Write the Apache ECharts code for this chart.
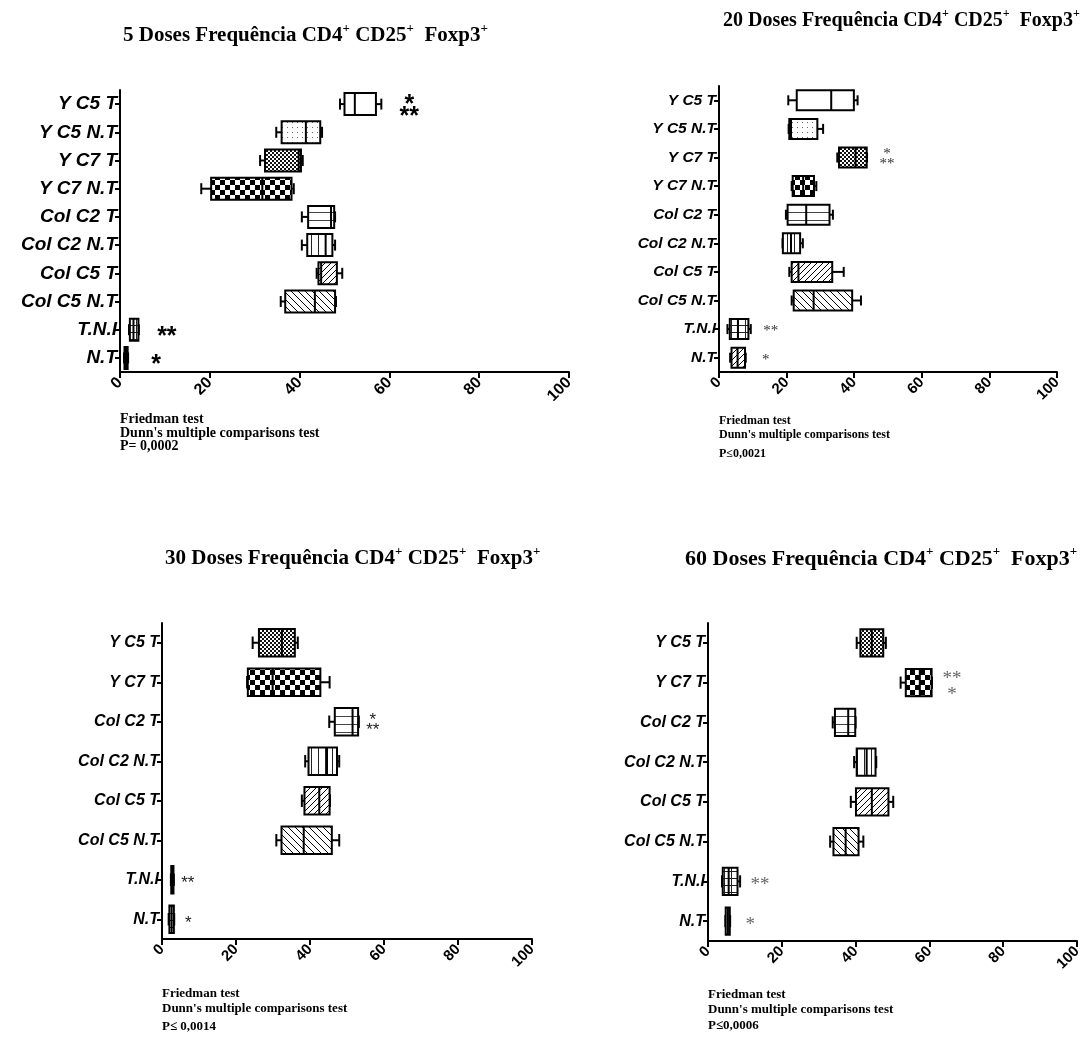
<!DOCTYPE html>
<html><head><meta charset="utf-8">
<script src="https://cdn.jsdelivr.net/npm/echarts@6/dist/echarts.min.js"></script>
<style>html,body{margin:0;padding:0;background:#fff}#c{width:1085px;height:1038px}</style>
</head><body><div id="c"></div><script>
// ---------------- DATA ----------------
const xTicks = [0, 20, 40, 60, 80, 100];
const titleDoses = ['5 Doses', '20 Doses', '30 Doses', '60 Doses'];

const cats5 = ['Y C5 T','Y C5 N.T','Y C7 T','Y C7 N.T','Col C2 T','Col C2 N.T','Col C5 T','Col C5 N.T','T.N.I','N.T'];
// [min, q1, median, q3, max]
const box5 = [
  [49.0, 50.0, 52.3, 57.0, 58.2],
  [34.8, 36.0, 41.4, 44.6, 45.0],
  [31.2, 32.3, 39.8, 40.3, 40.7],
  [18.1, 20.3, 31.7, 38.2, 38.7],
  [40.5, 41.9, 47.0, 47.7, 47.9],
  [40.5, 41.7, 45.8, 47.3, 47.9],
  [43.8, 44.2, 44.8, 48.3, 49.5],
  [35.8, 36.8, 43.4, 47.9, 48.1],
  [2.0, 2.2, 3.0, 4.1, 4.2],
  [0.9, 1.0, 1.4, 1.7, 1.8]
];
const stars5 = ['*\n**','','','','','','','','**','*'];
const notes5 = ['Friedman test', "Dunn's multiple comparisons test", 'P= 0,0002'];

const cats20 = ['Y C5 T','Y C5 N.T','Y C7 T','Y C7 N.T','Col C2 T','Col C2 N.T','Col C5 T','Col C5 N.T','T.N.I','N.T'];
const box20 = [
  [20.5, 23.0, 33.2, 39.9, 41.0],
  [20.6, 20.8, 21.3, 29.1, 30.8],
  [35.0, 35.5, 40.4, 43.7, 43.8],
  [21.5, 21.8, 24.9, 28.1, 28.8],
  [19.8, 20.3, 25.8, 32.7, 33.7],
  [18.8, 18.9, 21.3, 24.0, 24.8],
  [20.8, 21.5, 23.5, 33.5, 36.9],
  [21.5, 22.1, 28.0, 39.4, 42.0],
  [2.5, 3.2, 5.6, 8.7, 9.4],
  [3.3, 3.7, 5.5, 7.7, 7.9]
];
const stars20 = ['','','*\n**','','','','','','**','*'];
const notes20 = ['Friedman test', "Dunn's multiple comparisons test", 'P≤0,0021'];

const cats30 = ['Y C5 T','Y C7 T','Col C2 T','Col C2 N.T','Col C5 T','Col C5 N.T','T.N.I','N.T'];
const box30 = [
  [24.5, 26.2, 32.4, 35.9, 36.7],
  [23.0, 23.2, 29.9, 42.8, 45.3],
  [45.2, 46.7, 51.5, 53.0, 53.2],
  [38.7, 39.6, 44.6, 47.3, 47.9],
  [37.8, 38.5, 42.5, 45.3, 45.4],
  [30.9, 32.3, 38.3, 45.9, 47.9],
  [2.4, 2.5, 2.8, 3.1, 3.2],
  [1.8, 2.0, 2.6, 3.2, 3.3]
];
const stars30 = ['','','*\n**','','','','**','*'];
const notes30 = ['Friedman test', "Dunn's multiple comparisons test", 'P≤ 0,0014'];

const cats60 = ['Y C5 T','Y C7 T','Col C2 T','Col C2 N.T','Col C5 T','Col C5 N.T','T.N.I','N.T'];
const box60 = [
  [40.3, 41.3, 44.4, 47.5, 48.2],
  [52.2, 53.6, 57.4, 60.6, 60.7],
  [33.8, 34.4, 38.0, 39.9, 40.0],
  [39.6, 40.3, 43.0, 45.4, 45.6],
  [38.7, 40.1, 44.4, 48.9, 50.2],
  [33.1, 34.0, 37.3, 40.8, 42.1],
  [3.8, 4.0, 5.6, 8.0, 8.7],
  [4.7, 4.8, 5.4, 5.9, 6.0]
];
const stars60 = ['','**\n*','','','','','**','*'];
const notes60 = ['Friedman test', "Dunn's multiple comparisons test", 'P≤0,0006'];

// ---------------- STYLE ----------------
function pattern(kind) {
  const sizes = {blank:4, dots:5, fine:4, coarse:10, hl:8, vl:7, df:6, db:7, grid:7, solid:4};
  const s = sizes[kind] || 6;
  const c = document.createElement('canvas');
  c.width = s; c.height = s;
  const g = c.getContext('2d');
  g.fillStyle = '#fff'; g.fillRect(0, 0, s, s);
  g.fillStyle = '#000'; g.strokeStyle = '#000'; g.lineWidth = 1;
  if (kind === 'dots') { g.fillStyle = '#666'; g.fillRect(2, 2, 1, 1); }
  else if (kind === 'fine') { g.fillStyle = '#111'; g.fillRect(0, 0, 2, 2); g.fillRect(2, 2, 2, 2); }
  else if (kind === 'coarse') { g.fillRect(0, 0, s / 2, s / 2); g.fillRect(s / 2, s / 2, s / 2, s / 2); }
  else if (kind === 'hl') { g.fillStyle = '#444'; g.fillRect(0, 4, s, 1); }
  else if (kind === 'vl') { g.fillStyle = '#222'; g.fillRect(3, 0, 1, s); }
  else if (kind === 'df') {
    g.beginPath(); g.moveTo(0, s); g.lineTo(s, 0); g.moveTo(-1, 1); g.lineTo(1, -1);
    g.moveTo(s - 1, s + 1); g.lineTo(s + 1, s - 1); g.stroke();
  } else if (kind === 'db') {
    g.beginPath(); g.moveTo(0, 0); g.lineTo(s, s); g.moveTo(-1, s - 1); g.lineTo(1, s + 1);
    g.moveTo(s - 1, -1); g.lineTo(s + 1, 1); g.stroke();
  } else if (kind === 'grid') { g.fillStyle = '#222'; g.fillRect(0, 3, s, 1); g.fillRect(3, 0, 1, s); }
  else if (kind === 'solid') { g.fillRect(0, 0, s, s); }
  return {image: c, repeat: 'repeat'};
}

const panels = [
  {cats: cats5, box: box5, stars: stars5, notes: notes5, dose: titleDoses[0],
   grid: {left: 120, top: 90, width: 449, height: 282},
   labelSize: 19, tickSize: 16, boxRatio: 0.78, capRatio: 0.5, lw: 2,
   pats: ['blank','dots','fine','coarse','hl','vl','df','db','grid','solid'],
   starFont: 'bold 25px "Liberation Sans"', starColor: '#000', starGap: 28, starLH: 12, starDy: 7,
   title: {left: 118, top: 17, size: 21}, notesX: 120, notesY: [419, 433, 446], notesSize: 14},
  {cats: cats20, box: box20, stars: stars20, notes: notes20, dose: titleDoses[1],
   grid: {left: 719, top: 86, width: 338, height: 286},
   labelSize: 15.5, tickSize: 15, boxRatio: 0.7, capRatio: 0.5, lw: 2,
   pats: ['blank','dots','fine','coarse','hl','vl','df','db','grid','df'],
   starFont: '15px "Liberation Serif"', starColor: '#333', starGap: 20, starLH: 10, starDy: 2,
   title: {left: 718, top: 3, size: 20}, notesX: 719, notesY: [421, 435, 454], notesSize: 12},
  {cats: cats30, box: box30, stars: stars30, notes: notes30, dose: titleDoses[2],
   grid: {left: 162, top: 623, width: 370, height: 316},
   labelSize: 16, tickSize: 15, boxRatio: 0.7, capRatio: 0.45, lw: 2,
   pats: ['fine','coarse','hl','vl','df','db','solid','grid'],
   starFont: '17px "Liberation Sans"', starColor: '#222', starGap: 14, starLH: 10, starDy: 4,
   title: {left: 160, top: 540, size: 21}, notesX: 162, notesY: [994, 1009, 1027], notesSize: 13},
  {cats: cats60, box: box60, stars: stars60, notes: notes60, dose: titleDoses[3],
   grid: {left: 708, top: 623, width: 369, height: 318},
   labelSize: 16, tickSize: 15, boxRatio: 0.68, capRatio: 0.45, lw: 2,
   pats: ['fine','coarse','hl','vl','df','db','grid','vl'],
   starFont: '19px "Liberation Serif"', starColor: '#666', starGap: 20, starLH: 16, starDy: 4,
   title: {left: 680, top: 540, size: 22}, notesX: 708, notesY: [995, 1010, 1026], notesSize: 13}
];

function makeRender(p) {
  const fills = p.pats.map(pattern);
  return function (params, api) {
    const ci = api.value(0);
    const v = [1, 2, 3, 4, 5].map(i => api.value(i));
    const yc = api.coord([0, ci])[1];
    const band = api.size([0, 1])[1];
    const bh = band * p.boxRatio, ch = bh * p.capRatio;
    const x = v.map(val => api.coord([val, ci])[0]);
    const ls = {stroke: '#000', lineWidth: p.lw};
    const kids = [
      {type: 'line', shape: {x1: x[0], y1: yc, x2: x[1], y2: yc}, style: ls},
      {type: 'line', shape: {x1: x[3], y1: yc, x2: x[4], y2: yc}, style: ls},
      {type: 'line', shape: {x1: x[0], y1: yc - ch / 2, x2: x[0], y2: yc + ch / 2}, style: ls},
      {type: 'line', shape: {x1: x[4], y1: yc - ch / 2, x2: x[4], y2: yc + ch / 2}, style: ls},
      {type: 'rect', shape: {x: x[1], y: yc - bh / 2, width: Math.max(x[3] - x[1], 1), height: bh},
       style: {fill: fills[ci], stroke: '#000', lineWidth: p.lw}},
      {type: 'line', shape: {x1: x[2], y1: yc - bh / 2, x2: x[2], y2: yc + bh / 2}, style: ls}
    ];
    const st = p.stars[ci];
    if (st) {
      kids.push({type: 'text', style: {text: st, x: x[4] + p.starGap, y: yc + p.starDy,
        align: 'center', verticalAlign: 'middle', font: p.starFont, fill: p.starColor, lineHeight: p.starLH}});
    }
    return {type: 'group', children: kids};
  };
}

const option = {
  animation: false,
  backgroundColor: '#fff',
  title: panels.map(p => {
    const base = {fontFamily: 'Liberation Serif', fontWeight: 'bold', color: '#000'};
    return {
      left: p.title.left, top: p.title.top,
      text: '{m|' + p.dose + ' Frequência CD4}{s|+}{m| CD25}{s|+}{m|  Foxp3}{s|+}',
      textStyle: {rich: {
        m: Object.assign({fontSize: p.title.size, lineHeight: p.title.size + 6}, base),
        s: Object.assign({fontSize: Math.round(p.title.size * 0.6), lineHeight: Math.round(p.title.size * 0.75), verticalAlign: 'top'}, base)
      }}
    };
  }),
  grid: panels.map(p => Object.assign({containLabel: false, outerBoundsMode: 'none'}, p.grid)),
  xAxis: panels.map((p, i) => ({
    gridIndex: i, type: 'value', min: xTicks[0], max: xTicks[xTicks.length - 1], interval: xTicks[1] - xTicks[0],
    axisLine: {show: true, lineStyle: {color: '#000', width: 2}},
    axisTick: {show: true, length: 6, lineStyle: {color: '#000', width: 2}},
    splitLine: {show: false},
    axisLabel: {rotate: 45, margin: 8, color: '#000', fontFamily: 'Liberation Sans', fontWeight: 'bold', fontSize: p.tickSize}
  })),
  yAxis: panels.map((p, i) => ({
    gridIndex: i, type: 'category', data: p.cats, inverse: true,
    axisLine: {show: true, lineStyle: {color: '#000', width: 2}},
    axisTick: {show: true, alignWithLabel: true, length: 5, lineStyle: {color: '#000', width: 2}},
    splitLine: {show: false},
    axisLabel: {margin: 3, color: '#000', fontFamily: 'Liberation Sans', fontWeight: 'bold', fontStyle: 'italic', fontSize: p.labelSize}
  })),
  series: panels.map((p, i) => ({
    type: 'custom', xAxisIndex: i, yAxisIndex: i, clip: false,
    renderItem: makeRender(p),
    encode: {x: [1, 2, 3, 4, 5], y: 0},
    data: p.box.map((b, k) => [k].concat(b))
  })),
  graphic: panels.flatMap(p => p.notes.map((t, k) => ({
    type: 'text', left: p.notesX, top: p.notesY[k] - p.notesSize / 2,
    style: {text: t, font: 'bold ' + p.notesSize + 'px "Liberation Serif"', fill: '#000'}
  })))
};

const chart = echarts.init(document.getElementById('c'), null, {renderer: 'canvas'});
chart.setOption(option);
</script></body></html>
